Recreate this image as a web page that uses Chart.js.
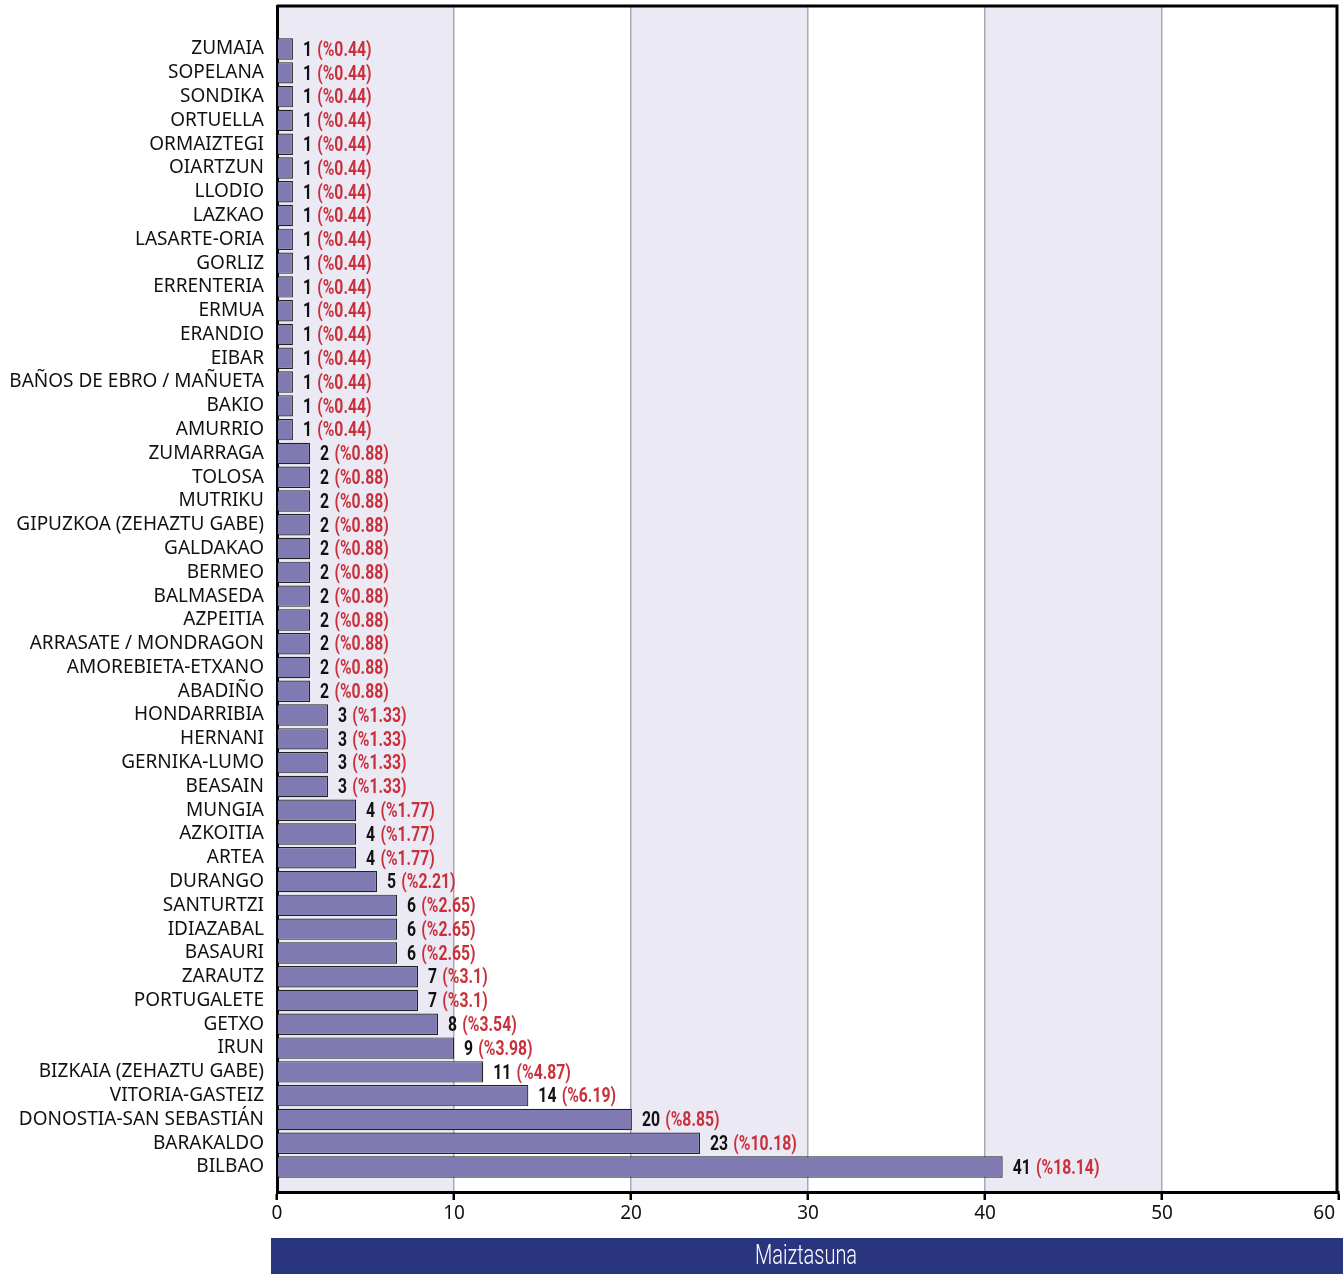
<!DOCTYPE html>
<html>
<head>
<meta charset="utf-8">
<script src="https://cdn.jsdelivr.net/npm/chart.js@4"></script>
<style>
  html, body { margin: 0; padding: 0; background: #fff; }
  #wrap { width: 1343px; height: 1274px; }
</style>
</head>
<body>
<div id="wrap"><canvas id="chartMaiztasuna"></canvas></div>
<script>
const herriak = ['ZUMAIA', 'SOPELANA', 'SONDIKA', 'ORTUELLA', 'ORMAIZTEGI', 'OIARTZUN', 'LLODIO', 'LAZKAO',
    'LASARTE-ORIA', 'GORLIZ', 'ERRENTERIA', 'ERMUA', 'ERANDIO', 'EIBAR', 'BAÑOS DE EBRO / MAÑUETA', 'BAKIO',
    'AMURRIO', 'ZUMARRAGA', 'TOLOSA', 'MUTRIKU', 'GIPUZKOA (ZEHAZTU GABE)', 'GALDAKAO', 'BERMEO', 'BALMASEDA',
    'AZPEITIA', 'ARRASATE / MONDRAGON', 'AMOREBIETA-ETXANO', 'ABADIÑO', 'HONDARRIBIA', 'HERNANI', 'GERNIKA-LUMO',
    'BEASAIN', 'MUNGIA', 'AZKOITIA', 'ARTEA', 'DURANGO', 'SANTURTZI', 'IDIAZABAL', 'BASAURI', 'ZARAUTZ',
    'PORTUGALETE', 'GETXO', 'IRUN', 'BIZKAIA (ZEHAZTU GABE)', 'VITORIA-GASTEIZ', 'DONOSTIA-SAN SEBASTIÁN',
    'BARAKALDO', 'BILBAO'];
// counts shown in the labels
const maiztasuna = [1, 1, 1, 1, 1, 1, 1, 1, 1, 1, 1, 1, 1, 1, 1, 1, 1,
    2, 2, 2, 2, 2, 2, 2, 2, 2, 2, 2,
    3, 3, 3, 3, 4, 4, 4, 5, 6, 6, 6, 7, 7, 8, 9, 11, 14, 20, 23, 41];
// bar lengths as read off the x axis of the picture (they are not exactly the counts)
const barLuzera = [0.9, 0.9, 0.9, 0.9, 0.9, 0.9, 0.9, 0.9, 0.9, 0.9, 0.9, 0.9, 0.9, 0.9, 0.9, 0.9, 0.9,
    1.87, 1.87, 1.87, 1.87, 1.87, 1.87, 1.87, 1.87, 1.87, 1.87, 1.87,
    2.88, 2.88, 2.88, 2.88, 4.47, 4.47, 4.47, 5.65, 6.78, 6.78, 6.78, 7.97, 7.97, 9.1, 10.0, 11.65, 14.2,
    20.05, 23.9, 41.0];
const ehunekoak = ['0.44', '0.44', '0.44', '0.44', '0.44', '0.44', '0.44', '0.44', '0.44', '0.44', '0.44',
    '0.44', '0.44', '0.44', '0.44', '0.44', '0.44',
    '0.88', '0.88', '0.88', '0.88', '0.88', '0.88', '0.88', '0.88', '0.88', '0.88', '0.88',
    '1.33', '1.33', '1.33', '1.33', '1.77', '1.77', '1.77', '2.21', '2.65', '2.65', '2.65', '3.1', '3.1',
    '3.54', '3.98', '4.87', '6.19', '8.85', '10.18', '18.14'];
const xTicks = [0, 10, 20, 30, 40, 50, 60];
const izenburua = 'Maiztasuna';

// bands, top/right frame, value labels and the title bar
const marcoPlugin = {
    id: 'marco',
    beforeDraw(chart) {
        const {ctx, chartArea: a, scales: {x}} = chart;
        ctx.save();
        for (let i = 0; i < xTicks.length - 1; i += 2) {
            const x0 = x.getPixelForValue(xTicks[i]);
            const x1 = x.getPixelForValue(xTicks[i + 1]);
            ctx.fillStyle = '#EBE9F4';
            ctx.fillRect(x0, a.top, x1 - x0, a.bottom - a.top);
        }
        ctx.restore();
    },
    afterDatasetsDraw(chart) {
        const {ctx, chartArea: a} = chart;
        ctx.save();
        ctx.strokeStyle = '#000';
        ctx.lineWidth = 3;
        ctx.beginPath();
        ctx.moveTo(a.left, a.top);
        ctx.lineTo(a.right - 2, a.top);
        ctx.lineTo(a.right - 2, a.bottom);
        ctx.stroke();

        const meta = chart.getDatasetMeta(0);
        ctx.textBaseline = 'middle';
        ctx.textAlign = 'left';
        const sx = 0.75;
        meta.data.forEach((bar, i) => {
            const zenb = String(maiztasuna[i]);
            const ehun = '(%' + ehunekoak[i] + ')';
            ctx.save();
            ctx.translate(bar.x + 10, bar.y + 1.5);
            ctx.scale(sx, 1);
            ctx.font = 'bold 21px Roboto';
            ctx.fillStyle = '#111';
            ctx.fillText(zenb, 0, 0);
            const w = ctx.measureText(zenb).width + 7;
            ctx.fillStyle = '#C8313B';
            ctx.fillText(ehun, w, 0);
            ctx.restore();
        });

        // title bar
        ctx.fillStyle = '#2A3580';
        ctx.fillRect(271, 1238, chart.width - 271, 36);
        ctx.save();
        ctx.translate(806, 1257);
        ctx.scale(0.74, 1);
        ctx.font = '300 27px Roboto';
        ctx.fillStyle = '#fff';
        ctx.textAlign = 'center';
        ctx.textBaseline = 'middle';
        ctx.fillText(izenburua, 0, 0);
        ctx.restore();
        ctx.restore();
    }
};

const ctxMaiztasuna = document.getElementById('chartMaiztasuna').getContext('2d');
const chartMaiztasuna = new Chart(ctxMaiztasuna, {
    type: 'bar',
    data: {
        datasets: [{
            data: herriak.map((h, i) => ({x: barLuzera[i], y: i})),
            backgroundColor: '#7F7BB2',
            borderColor: '#222',
            borderWidth: 1.2,
            barPercentage: 0.9,
            categoryPercentage: 1
        }]
    },
    plugins: [marcoPlugin],
    options: {
        indexAxis: 'y',
        responsive: true,
        maintainAspectRatio: false,
        animation: false,
        layout: {padding: {left: 0, top: 6, right: 4, bottom: 0}},
        plugins: {legend: {display: false}, tooltip: {enabled: false}},
        scales: {
            x: {
                type: 'linear',
                min: 0,
                max: 60,
                afterFit: (s) => { s.height = 82; s.paddingLeft = 0; s.paddingRight = 0; },
                afterBuildTicks: (s) => { s.ticks = xTicks.map(v => ({value: v})); },
                grid: {
                    color: (c) => (c.tick && (c.tick.value === 0 || c.tick.value === 60)) ? 'rgba(0,0,0,0)' : '#A9A9B3',
                    lineWidth: 1.5,
                    tickColor: '#000',
                    tickWidth: 2.5,
                    tickLength: 8
                },
                border: {display: true, color: '#000', width: 3},
                ticks: {
                    padding: 2,
                    color: '#111',
                    font: {family: 'Noto Sans', size: 19},
                    maxRotation: 0,
                    callback: (v) => v === 60 ? '60      ' : String(v)
                }
            },
            y: {
                type: 'linear',
                reverse: true,
                offset: false,
                min: -1.81,
                max: 48.05,
                afterFit: (s) => { s.width = 277; s.paddingTop = 0; s.paddingBottom = 0; },
                grid: {display: false, drawTicks: false, offset: false},
                border: {display: true, color: '#000', width: 3},
                ticks: {
                    stepSize: 1,
                    autoSkip: false,
                    padding: 13,
                    color: '#111',
                    font: {family: 'Noto Sans', size: 19},
                    callback: (v) => Number.isInteger(v) ? (herriak[v] ?? '') : ''
                }
            }
        }
    }
});
</script>
</body>
</html>
